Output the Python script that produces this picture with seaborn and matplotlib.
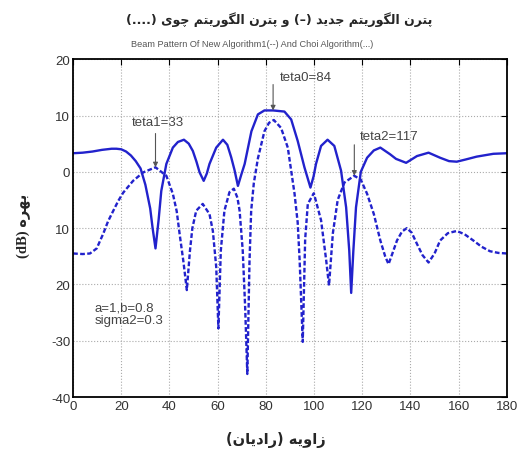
import numpy as np
import pandas as pd
import matplotlib
matplotlib.use("Agg")
import matplotlib.pyplot as plt
import seaborn as sns

# ---------------- data ----------------
new_angle = [0, 4, 8, 12, 16, 18, 20, 22, 24, 26, 28, 30, 32, 33, 34.2, 35.5, 36.6,
             38.7, 41.4, 43.5, 46, 48, 49.7, 51.2, 52.5, 54.2, 55.5, 56.6, 59.4,
             62.2, 64, 65.6, 67, 68.4, 69.8, 71.2, 74, 76.7, 79.4, 83, 87.7, 90.5,
             93.2, 96, 98.5, 99.8, 100.8, 102.9, 105.6, 108.4, 111.2, 113.3, 114.6,
             115.4, 116.3, 117.4, 119.4, 122, 124.8, 127.5, 131.6, 134, 138.2,
             142.7, 147.5, 152.3, 156, 159.2, 163, 167.5, 174.4, 180]
new_db = [3.3, 3.4, 3.6, 3.9, 4.1, 4.1, 4.0, 3.6, 2.9, 1.9, 0.6, -2.3, -6.5, -10, -13.6,
          -8.5, -3.4, 1.4, 4.3, 5.3, 5.7, 5.0, 3.7, 1.8, -0.1, -1.6, -0.3, 1.4, 4.3,
          5.7, 4.8, 2.6, 0.3, -2.5, -0.5, 1.4, 7.2, 10.2, 10.9, 10.9, 10.7, 9.3,
          5.5, 0.8, -2.8, -0.8, 1.4, 4.6, 5.7, 4.6, 0.2, -6.3, -14,
          -21.5, -14, -6.3, 0.0, 2.5, 3.8, 4.3, 3.1, 2.3, 1.6,
          2.8, 3.4, 2.5, 1.9, 1.8, 2.2, 2.7, 3.2, 3.3]

choi_angle = [0, 4, 7, 9.8, 12.5, 14.5, 16.7, 18.7, 20.8, 24.9, 29.1, 34.2, 38.7, 41.4,
              43, 44.2, 45.8, 47.2, 48.5, 49.5, 51.1, 53.8, 56.6, 58, 59.4, 60.3, 61.3,
              62.8, 64.9, 66.7, 68.2, 69.1, 70.4, 71.4, 72.3, 73.2, 73.9, 75, 76.7,
              79.4, 81.3, 83.3, 86.3, 89.1, 91.9, 93.2, 94, 95.3, 96.3, 97.4, 99.9,
              102.9, 105, 106.2, 107.8, 109.8, 112.6, 116.7, 119.4, 122, 124.8, 127.5,
              129.5, 130.9, 132.5, 134.4, 136.5, 138.5, 140.5, 142.7, 145, 147.5, 150,
              152.3, 155.5, 159.2, 162.5, 166.1, 169.5, 173, 176.5, 180]
choi_db = [-14.5, -14.6, -14.5, -13.6, -11, -8.8, -6.9, -5.2, -3.7, -1.6, -0.1, 0.8, -0.7,
           -3.9, -7, -11, -16, -21, -14, -10, -6.9, -5.7, -7.5, -10.5, -16.9, -27.8, -14,
           -6.9, -3.6, -3.0, -4.6, -6.9, -14, -24, -35.9, -16, -6.9, -2, 2.4,
           7.2, 8.7, 9.2, 7.8, 4.3, -3.9, -9, -15.6, -30.2, -12, -5.7, -3.8,
           -8.6, -15.6, -20.2, -10.9, -5.0, -1.9, -0.7, -1.4, -3.9, -7.5, -12.2,
           -15, -16.4, -14.5, -12.2, -10.6, -10.0, -10.8, -12.8, -14.8, -16.1, -14.5,
           -12.2, -10.9, -10.5, -11.1, -12.2, -13.3, -14.1, -14.4, -14.5]

x_ticks = [0, 20, 40, 60, 80, 100, 120, 140, 160, 180]
y_ticks = [20, 10, 0, -10, -20, -30, -40]
y_tick_labels = ["20", "10", "0", "10", "20", "-30", "-40"]

title_fa = "پترن الگوریتم جدید (–) و پترن الگوریتم چوی (....)"
subtitle = "Beam Pattern Of New Algorithm1(--) And Choi Algorithm(...)"
ylabel_fa = "بهره"
ylabel_unit = "(dB)"
xlabel_fa = "زاویه (رادیان)"
annotations = [("teta0=84", 83), ("teta1=33", 34.2), ("teta2=117", 116.7)]
params_text = "a=1,b=0.8\nsigma2=0.3"

# ---------------- minimal Persian shaping (matplotlib has no shaper) ----------------
FORMS = {  # isolated, final, initial, medial
    "ا": ("\uFE8D", "\uFE8E", None, None),
    "ب": ("\uFE8F", "\uFE90", "\uFE91", "\uFE92"),
    "پ": ("\uFB56", "\uFB57", "\uFB58", "\uFB59"),
    "ت": ("\uFE95", "\uFE96", "\uFE97", "\uFE98"),
    "ج": ("\uFE9D", "\uFE9E", "\uFE9F", "\uFEA0"),
    "چ": ("\uFB7A", "\uFB7B", "\uFB7C", "\uFB7D"),
    "د": ("\uFEA9", "\uFEAA", None, None),
    "ر": ("\uFEAD", "\uFEAE", None, None),
    "ز": ("\uFEAF", "\uFEB0", None, None),
    "ل": ("\uFEDD", "\uFEDE", "\uFEDF", "\uFEE0"),
    "م": ("\uFEE1", "\uFEE2", "\uFEE3", "\uFEE4"),
    "ن": ("\uFEE5", "\uFEE6", "\uFEE7", "\uFEE8"),
    "و": ("\uFEED", "\uFEEE", None, None),
    "ه": ("\uFEE9", "\uFEEA", "\uFEEB", "\uFEEC"),
    "ی": ("\uFBFC", "\uFBFD", "\uFBFE", "\uFBFF"),
    "گ": ("\uFB92", "\uFB93", "\uFB94", "\uFB95"),
}


def rtl(text):
    out = []
    for i, ch in enumerate(text):
        if ch not in FORMS:
            out.append(ch)
            continue
        prev = text[i - 1] if i > 0 else ""
        nxt = text[i + 1] if i + 1 < len(text) else ""
        join_prev = prev in FORMS and FORMS[prev][2] is not None
        join_next = FORMS[ch][2] is not None and nxt in FORMS
        iso, fin, ini, med = FORMS[ch]
        if join_prev and join_next:
            out.append(med)
        elif join_prev:
            out.append(fin)
        elif join_next:
            out.append(ini)
        else:
            out.append(iso)
    vis = "".join(reversed(out))
    return vis.translate(str.maketrans({"(": ")", ")": "("}))


# ---------------- plot ----------------
sns.set_style("white")
plt.rcParams["font.family"] = ["Liberation Sans", "DejaVu Sans"]

fig = plt.figure(figsize=(5.22, 4.56), dpi=100)
ax = fig.add_axes([0.140, 0.127, 0.831, 0.741])

blue = "#2222cc"
df_new = pd.DataFrame({"angle": new_angle, "db": new_db})
df_choi = pd.DataFrame({"angle": choi_angle, "db": choi_db})
sns.lineplot(data=df_new, x="angle", y="db", ax=ax, color=blue, lw=1.7, sort=False)
sns.lineplot(data=df_choi, x="angle", y="db", ax=ax, color=blue, lw=1.7, sort=False,
             dashes=False, linestyle=(0, (2.0, 1.0)))

ax.set_xlim(0, 180)
ax.set_ylim(-40, 20)
ax.set_xticks(x_ticks)
ax.set_xticklabels([str(t) for t in x_ticks])
ax.set_yticks(y_ticks)
ax.set_yticklabels(y_tick_labels)
ax.tick_params(direction="in", top=True, right=True, length=4, width=0.8,
               labelsize=9.5, colors="black", pad=2)
for lab in ax.get_xticklabels() + ax.get_yticklabels():
    lab.set_color("#333333")
ax.grid(True, linestyle=":", color="#aaaaaa", lw=0.8)
for s in ax.spines.values():
    s.set_visible(True)
    s.set_color("black")
    s.set_linewidth(1.3)
ax.set_xlabel("")
ax.set_ylabel("")

# annotations
gray = "#444444"
ann_text_pos = {"teta0=84": (96.5, 16.9), "teta1=33": (35.3, 8.8), "teta2=117": (131.0, 6.3)}
ann_arrow_start = {"teta0=84": 15.5, "teta1=33": 6.8, "teta2=117": 4.8}
for label, xa in annotations:
    ya = np.interp(xa, choi_angle, choi_db) if label != "teta0=84" else 10.9
    ax.annotate("", xy=(xa, ya), xytext=(xa, ann_arrow_start[label]),
                arrowprops=dict(arrowstyle="-|>", color="#555555", lw=0.8,
                                mutation_scale=7, shrinkA=0, shrinkB=0))
    tx, ty = ann_text_pos[label]
    ax.text(tx, ty, label, ha="center", va="center", fontsize=9.5, color=gray)

ax.text(9.0, -25.2, params_text, ha="left", va="center", fontsize=9.5, color=gray,
        linespacing=1.1)

# titles and labels
fig.text(0.535, 0.957, rtl(title_fa), ha="center", va="center", fontsize=9,
         fontweight="bold", family=["DejaVu Sans"])
fig.text(0.483, 0.903, subtitle, ha="center", va="center", fontsize=6.6, color="#555555")
fig.text(0.045, 0.505, ylabel_unit + " " + rtl(ylabel_fa), rotation=90, ha="center",
         va="center", fontsize=10.5, fontweight="bold",
         family=["Liberation Serif", "DejaVu Sans"])
fig.text(0.528, 0.035, rtl(xlabel_fa), ha="center", va="center", fontsize=10.5,
         fontweight="bold", family=["DejaVu Sans"])

fig.savefig("out.png", dpi=100)
